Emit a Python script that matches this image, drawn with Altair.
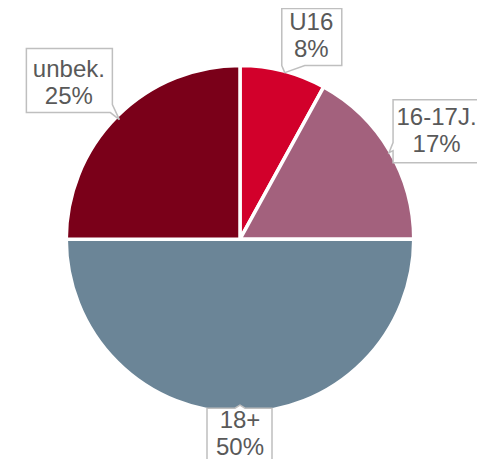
import altair as alt
import pandas as pd

# ---- data ----
labels = ["U16", "16-17J.", "18+", "unbek."]
values = [8, 17, 50, 25]
pct_text = ["8%", "17%", "50%", "25%"]
colors = ["#d2002b", "#a3617d", "#6b8597", "#7a0019"]

# ---- callout styling (pixel geometry relative to the slice-edge anchor, y down) ----
callout_paths = [
    "M2,0 L-1,-7 L-1,-64 L59,-64 L59,-7 L22,-7 Z",
    "M1,1 L5,-9 L5,-52 L101,-52 L101,11 L5,11 L5,-1 Z",
    "M0,-6 L5,-3 L32,-3 L32,64 L-33,64 L-33,-3 L-5,-3 Z",
    "M1,2 L-6,-13 L-6,-69 L-92,-69 L-92,-5 L-8,-5 Z",
]
text_dx = [28.5, 48.5, 0, -49.5]
text_dy = [-50, -34, 10, -48]

W, H = 469, 451
CX, CY = 232, 231.2
R = 172
STROKE = 3.5

df = pd.DataFrame({
    "label": labels,
    "value": values,
    "order": list(range(len(labels))),
    "pct": pct_text,
    "path": callout_paths,
    "tdx": text_dx,
    "tdy": text_dy,
})

xs = alt.Scale(domain=[-CX, W - CX], range=[0, W], nice=False, zero=False)
ys = alt.Scale(domain=[CY - H, CY], range=[H, 0], nice=False, zero=False)

base = alt.Chart(df)

arcs = base.mark_arc(outerRadius=R + STROKE / 2, stroke="white", strokeWidth=STROKE).encode(
    theta=alt.Theta("value:Q", stack=True),
    order=alt.Order("order:Q"),
    color=alt.Color("label:N", scale=alt.Scale(domain=labels, range=colors), legend=None),
    x=alt.value(CX),
    y=alt.value(CY),
)

placed = base.transform_joinaggregate(
    total="sum(value)"
).transform_window(
    cum="sum(value)", sort=[alt.SortField("order")], frame=[None, 0]
).transform_calculate(
    mid="(datum.cum - datum.value / 2) / datum.total * 2 * PI",
).transform_calculate(
    ax=f"{R} * sin(datum.mid)",
    ay=f"{R} * cos(datum.mid)",
).transform_calculate(
    tx="datum.ax + datum.tdx",
    ty="datum.ay - datum.tdy",
    txt="datum.label + '\\n' + datum.pct",
)

boxes = placed.mark_point(
    filled=True, fill="white", stroke="#bfbfbf", strokeWidth=1.5, opacity=1, size=4
).encode(
    x=alt.X("ax:Q", scale=xs, axis=None),
    y=alt.Y("ay:Q", scale=ys, axis=None),
    shape=alt.Shape("path:N", scale=None),
)

texts = placed.mark_text(
    font="Liberation Sans", fontSize=24, color="#595959",
    lineBreak="\n", align="center", baseline="middle", lineHeight=27,
).encode(
    x=alt.X("tx:Q", scale=xs, axis=None),
    y=alt.Y("ty:Q", scale=ys, axis=None),
    text="txt:N",
)

chart = alt.layer(arcs, boxes, texts).properties(
    width=W, height=H, autosize=alt.AutoSizeParams(type="none"), padding=0
).configure_view(stroke=None)

chart.save("out.html", embed_options={"renderer": "svg", "actions": False})
